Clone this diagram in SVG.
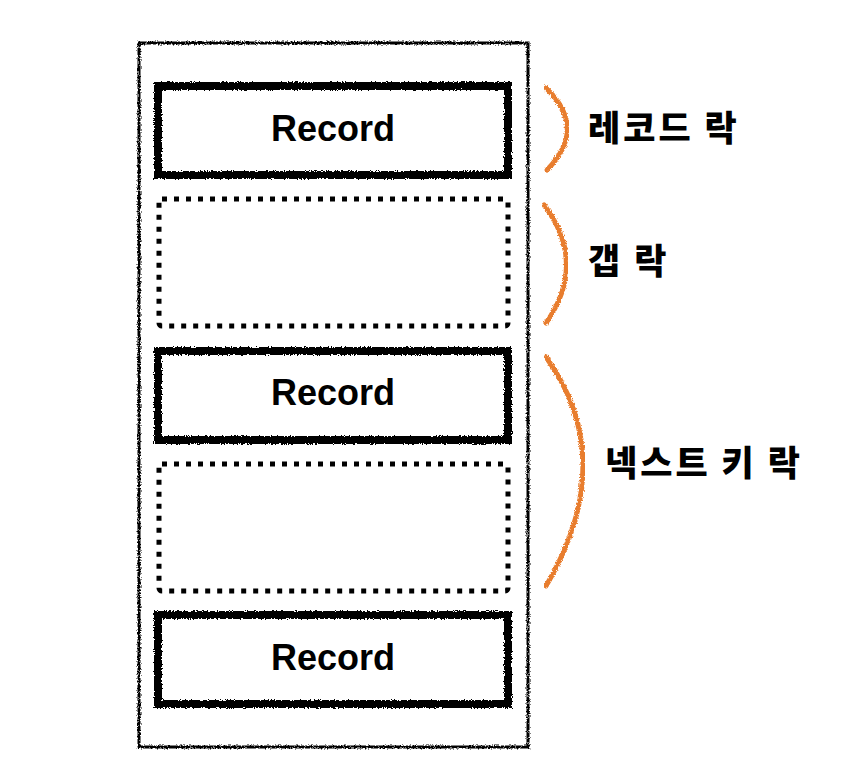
<svg xmlns="http://www.w3.org/2000/svg" width="846" height="784" viewBox="0 0 846 784">
<defs>
<filter id="rough" x="-5%" y="-5%" width="110%" height="110%">
<feTurbulence type="fractalNoise" baseFrequency="0.7" numOctaves="2" seed="3" result="n"/>
<feDisplacementMap in="SourceGraphic" in2="n" scale="4" xChannelSelector="R" yChannelSelector="G"/>
</filter>
</defs>
<style>
.outer{fill:none;stroke:#000;stroke-width:3}
.rec{fill:none;stroke:#000;stroke-width:8}
.gap{fill:none;stroke:#000;stroke-width:5;stroke-dasharray:5 7}
.brace{fill:none;stroke:#e87d2e;stroke-width:5;stroke-linecap:round}
.lbl{font-family:"Liberation Sans",Arial,sans-serif;font-weight:bold;font-size:36px;fill:#000;text-anchor:middle}
.kr{font-family:"Noto Sans CJK KR","Noto Sans",sans-serif;font-weight:900;font-size:35px;letter-spacing:3px;fill:#000}
</style>
<rect width="846" height="784" fill="#fff"/>
<g id="outer-page"><rect class="outer" x="139" y="43" width="389" height="704" filter="url(#rough)"/></g>
<g id="record-1"><rect class="rec" x="158" y="86" width="350" height="89" filter="url(#rough)"/><text class="lbl" x="333" y="141">Record</text></g>
<g id="gap-1"><rect class="gap" x="159" y="199" width="349" height="127" rx="3"/></g>
<g id="record-2"><rect class="rec" x="158" y="351" width="350" height="89" filter="url(#rough)"/><text class="lbl" x="333" y="405">Record</text></g>
<g id="gap-2"><rect class="gap" x="159" y="464" width="349" height="127" rx="3"/></g>
<g id="record-3"><rect class="rec" x="158" y="615" width="350" height="89" filter="url(#rough)"/><text class="lbl" x="333" y="670">Record</text></g>
<g id="connectors">
<path class="brace" d="M546,88 Q588,128 547,170" filter="url(#rough)"/>
<path class="brace" d="M544,205 Q588,263 546,323" filter="url(#rough)"/>
<path class="brace" d="M546,357 Q620,460 546,586" filter="url(#rough)"/>
</g>
<g id="label-record-lock"><text class="kr" x="588" y="141">레코드 락</text></g>
<g id="label-gap-lock"><text class="kr" x="588" y="274">갭 락</text></g>
<g id="label-next-key-lock"><text class="kr" x="605" y="476">넥스트 키 락</text></g>
</svg>
